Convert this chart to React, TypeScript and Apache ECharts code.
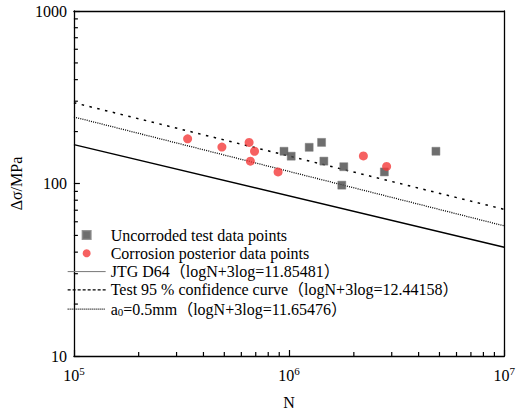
import React, { useEffect, useRef } from 'react';
import * as echarts from 'echarts';

// Uncorroded test data points (N, stress range MPa)
const uncorrodedN = [9.47e5, 1.023e6, 1.24e6, 1.416e6, 1.451e6, 1.796e6, 1.758e6, 2.772e6, 4.814e6];
const uncorrodedS = [153.8, 144.0, 162.1, 173.1, 134.8, 125.1, 97.8, 116.7, 153.8];
// Corrosion posterior data points
const corrosionN = [3.377e5, 4.874e5, 6.52e5, 6.91e5, 6.61e5, 8.89e5, 2.215e6, 2.84e6];
const corrosionS = [181.5, 162.7, 173.1, 153.8, 134.8, 116.7, 144.5, 125.6];
// S-N curves (end points at N = 1e5 and 1e7)
const curveN = [1e5, 1e7];
const jtgS = [168, 42.7];
const testS = [294, 70.8];
const a0S = [243, 56.8];

const seriesNames = [
  'Uncorroded test data points',
  'Corrosion posterior data points',
  'JTG D64（logN+3log=11.85481）',
  'Test 95 % confidence curve（logN+3log=12.44158）',
  'a0=0.5mm（logN+3log=11.65476）',
];

const xMinor = [2e5, 3e5, 4e5, 5e5, 6e5, 7e5, 8e5, 9e5, 2e6, 3e6, 4e6, 5e6, 6e6, 7e6, 8e6, 9e6];
const yMinor = [20, 30, 40, 50, 60, 70, 80, 90, 200, 300, 400, 500, 600, 700, 800, 900];

const FONT = 'Liberation Serif, Noto Sans CJK SC, serif';
const X_MIN = 1e5;
const Y_MIN = 10;

export default function App() {
  const ref = useRef<HTMLDivElement>(null);
  useEffect(() => {
    if (!ref.current) return;
    const chart = echarts.init(ref.current, null, { renderer: 'svg' });
    const axisLineStyle = { color: '#000', width: 1.3 };
    const majorTick = { show: true, inside: true, length: 6, lineStyle: { color: '#000', width: 1.2 } };
    const frameAxis = (extra: any) => ({
      type: 'log', logBase: 10,
      axisLine: { show: true, onZero: false, lineStyle: axisLineStyle },
      axisTick: { show: false }, axisLabel: { show: false }, splitLine: { show: false },
      ...extra,
    });
    const option: any = {
      animation: false,
      backgroundColor: '#fff',
      grid: { left: 69, top: 11, right: 10, bottom: 54, show: false },
      xAxis: [
        {
          type: 'log', logBase: 10, min: 1e5, max: 1e7, position: 'bottom',
          name: 'N', nameLocation: 'middle', nameGap: 38,
          nameTextStyle: { fontFamily: FONT, fontSize: 16, color: '#000' },
          axisLine: { onZero: false, lineStyle: axisLineStyle },
          axisTick: majorTick,
          axisLabel: {
            margin: 10,
            formatter: (v: number) => `{b|10}{s|${Math.round(Math.log10(v))}}`,
            rich: {
              b: { fontFamily: FONT, fontSize: 16, color: '#000', verticalAlign: 'bottom', lineHeight: 18 },
              s: { fontFamily: FONT, fontSize: 11, color: '#000', verticalAlign: 'bottom', lineHeight: 18, padding: [0, 0, 8, 0] },
            },
          },
          splitLine: { show: false },
        },
        frameAxis({ min: 1e5, max: 1e7, position: 'top' }),
      ],
      yAxis: [
        {
          type: 'log', logBase: 10, min: 10, max: 1000, position: 'left',
          name: 'Δσ/MPa', nameLocation: 'middle', nameGap: 40,
          nameTextStyle: { fontFamily: FONT, fontSize: 16, color: '#000' },
          axisLine: { onZero: false, lineStyle: axisLineStyle },
          axisTick: majorTick,
          axisLabel: { margin: 7, fontFamily: FONT, fontSize: 16, color: '#000', formatter: (v: number) => String(Math.round(v)) },
          splitLine: { show: false },
        },
        frameAxis({ min: 10, max: 1000, position: 'right' }),
      ],
      legend: {
        orient: 'vertical', left: 67, top: 227, padding: 0,
        itemWidth: 38, itemHeight: 8, itemGap: 2.3,
        data: [
          { name: seriesNames[0], icon: 'path://M0,0L10,0L10,10L0,10Z' },
          { name: seriesNames[1], icon: 'circle' },
          { name: seriesNames[2], itemStyle: { opacity: 0 }, lineStyle: { color: '#777', width: 1, type: 'solid' } },
          { name: seriesNames[3], itemStyle: { opacity: 0 }, lineStyle: { color: '#000', width: 1.3, type: [3, 2] } },
          { name: seriesNames[4], itemStyle: { opacity: 0 }, lineStyle: { color: '#000', width: 1.3, type: [1, 1] } },
        ],
        textStyle: {
          fontFamily: FONT, fontSize: 16, color: '#000', lineHeight: 16,
          rich: {
            sub: { fontFamily: FONT, fontSize: 11, color: '#000', verticalAlign: 'bottom', lineHeight: 12, padding: [6, 0, 0, 0] },
          },
        },
        formatter: (name: string) => (name.startsWith('a0') ? 'a{sub|0}' + name.slice(2) : name),
      },
      series: [
        {
          name: seriesNames[2], type: 'line', symbol: 'none', z: 2,
          data: curveN.map((n, i) => [n, jtgS[i]]),
          lineStyle: { color: '#000', width: 1.4, type: 'solid' },
          itemStyle: { color: '#000' },
        },
        {
          name: seriesNames[3], type: 'line', symbol: 'none', z: 2,
          data: curveN.map((n, i) => [n, testS[i]]),
          lineStyle: { color: '#000', width: 1.5, type: [2.5, 5.5] },
          itemStyle: { color: '#000' },
        },
        {
          name: seriesNames[4], type: 'line', symbol: 'none', z: 2,
          data: curveN.map((n, i) => [n, a0S[i]]),
          lineStyle: { color: '#000', width: 1.3, type: [1, 1.2] },
          itemStyle: { color: '#000' },
        },
        {
          name: seriesNames[0], type: 'scatter', symbol: 'rect', symbolSize: 8, z: 5,
          data: uncorrodedN.map((n, i) => [n, uncorrodedS[i]]),
          itemStyle: { color: '#4a4a4a', borderColor: '#7a7a7a', borderWidth: 0.6 },
        },
        {
          name: seriesNames[1], type: 'scatter', symbol: 'circle', symbolSize: 9, z: 5,
          data: corrosionN.map((n, i) => [n, corrosionS[i]]),
          itemStyle: { color: '#f43a3a' },
        },
      ],
    };
    chart.setOption(option);

    // Minor ticks (inside), placed through the chart's own log scales
    const ticks: any[] = [];
    xMinor.forEach((v) => {
      const p = chart.convertToPixel({ xAxisIndex: 0, yAxisIndex: 0 }, [v, Y_MIN]) as number[];
      if (p) ticks.push({ type: 'line', silent: true, z: 100, shape: { x1: p[0], y1: p[1], x2: p[0], y2: p[1] - 4 }, style: { stroke: '#000', lineWidth: 1.2 } });
    });
    yMinor.forEach((v) => {
      const p = chart.convertToPixel({ xAxisIndex: 0, yAxisIndex: 0 }, [X_MIN, v]) as number[];
      if (p) ticks.push({ type: 'line', silent: true, z: 100, shape: { x1: p[0], y1: p[1], x2: p[0] + 4, y2: p[1] }, style: { stroke: '#000', lineWidth: 1.2 } });
    });
    chart.setOption({ graphic: { elements: ticks } });

    return () => chart.dispose();
  }, []);
  return <div ref={ref} style={{ position: 'fixed', left: 0, top: 0, width: 518, height: 415 }} />;
}
